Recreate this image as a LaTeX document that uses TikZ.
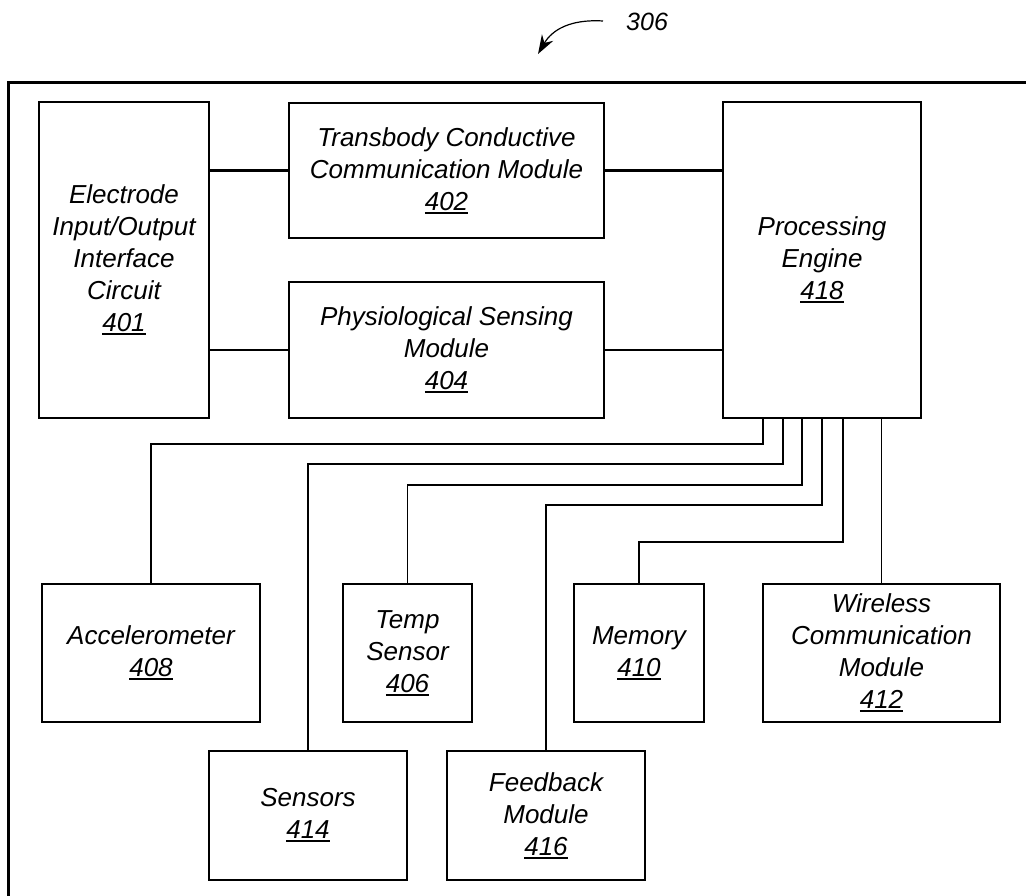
\documentclass[tikz,border=0pt]{standalone}
\usepackage{fontspec}
\setmainfont{Liberation Sans}
\usetikzlibrary{arrows.meta}
\newcommand\refnum[1]{\leavevmode\setbox0=\hbox{#1}\vtop{\copy0\kern1.6pt\hrule height 1.8pt width \wd0}}
\begin{document}
\begin{tikzpicture}[x=1pt,y=-1pt,
  box/.style={draw=black,line width=2pt,inner sep=0pt,align=center,
    font=\fontsize{26}{32}\selectfont\itshape},
  link/.style={draw=black,line width=1.8pt},
  thick link/.style={draw=black,line width=3pt}]
\useasboundingbox (0,0) rectangle (1026,896);
% outer frame (extends beyond the visible area)
\draw[line width=3pt] (8,900) -- (8,83) -- (1030,83);
% label 306
\node[font=\fontsize{25}{30}\selectfont\itshape,anchor=west,inner sep=0pt] (lbl) at (626,22) {306};
\coordinate (arrstart) at (603,21);
\coordinate (arrtip) at (538,54);
\draw[line width=1.2pt,-{Stealth[length=19pt,width=13pt]}] (arrstart) .. controls (570,19) and (552,30) .. (arrtip);
% boxes
\node[box,minimum width=170pt,minimum height=316pt] (n401) at (124,260)
  {Electrode\\Input/Output\\Interface\\Circuit\\\refnum{401}};
\node[box,minimum width=315pt,minimum height=135pt] (n402) at (446.5,170.5)
  {Transbody Conductive\\Communication Module\\\refnum{402}};
\node[box,minimum width=315pt,minimum height=136pt] (n404) at (446.5,350)
  {Physiological Sensing\\Module\\\refnum{404}};
\node[box,minimum width=198pt,minimum height=316pt] (n418) at (822,260)
  {Processing\\Engine\\\refnum{418}};
\node[box,minimum width=218pt,minimum height=138pt] (n408) at (151,653)
  {Accelerometer\\\refnum{408}};
\node[box,minimum width=129pt,minimum height=138pt] (n406) at (407.5,653)
  {Temp\\Sensor\\\refnum{406}};
\node[box,minimum width=130pt,minimum height=138pt] (n410) at (639,653)
  {Memory\\\refnum{410}};
\node[box,minimum width=237pt,minimum height=138pt] (n412) at (881.5,653)
  {Wireless\\Communication\\Module\\\refnum{412}};
\node[box,minimum width=198pt,minimum height=129pt] (n414) at (308,815.5)
  {Sensors\\\refnum{414}};
\node[box,minimum width=198pt,minimum height=129pt] (n416) at (546,815.5)
  {Feedback\\Module\\\refnum{416}};
% top connectors
\draw[thick link] (n401.east |- n402.west) -- (n402.west);
\draw[thick link] (n402.east) -- (n418.west |- n402.east);
\draw[link] (n401.east |- n404.west) -- (n404.west);
\draw[link] (n404.east) -- (n418.west |- n404.east);
% bus from processing engine
\draw[link] (763,0 |- n418.south) |- (n408.north |- 0,444) -- (n408.north);
\draw[link] (783,0 |- n418.south) |- (n414.north |- 0,464) -- (n414.north);
\draw[link] (802,0 |- n418.south) |- (n406.north |- 0,485) -- (n406.north);
\draw[link] (822,0 |- n418.south) |- (n416.north |- 0,505) -- (n416.north);
\draw[link] (843,0 |- n418.south) |- (n410.north |- 0,542) -- (n410.north);
\draw[link] (n412.north |- n418.south) -- (n412.north);
\end{tikzpicture}
\end{document}
